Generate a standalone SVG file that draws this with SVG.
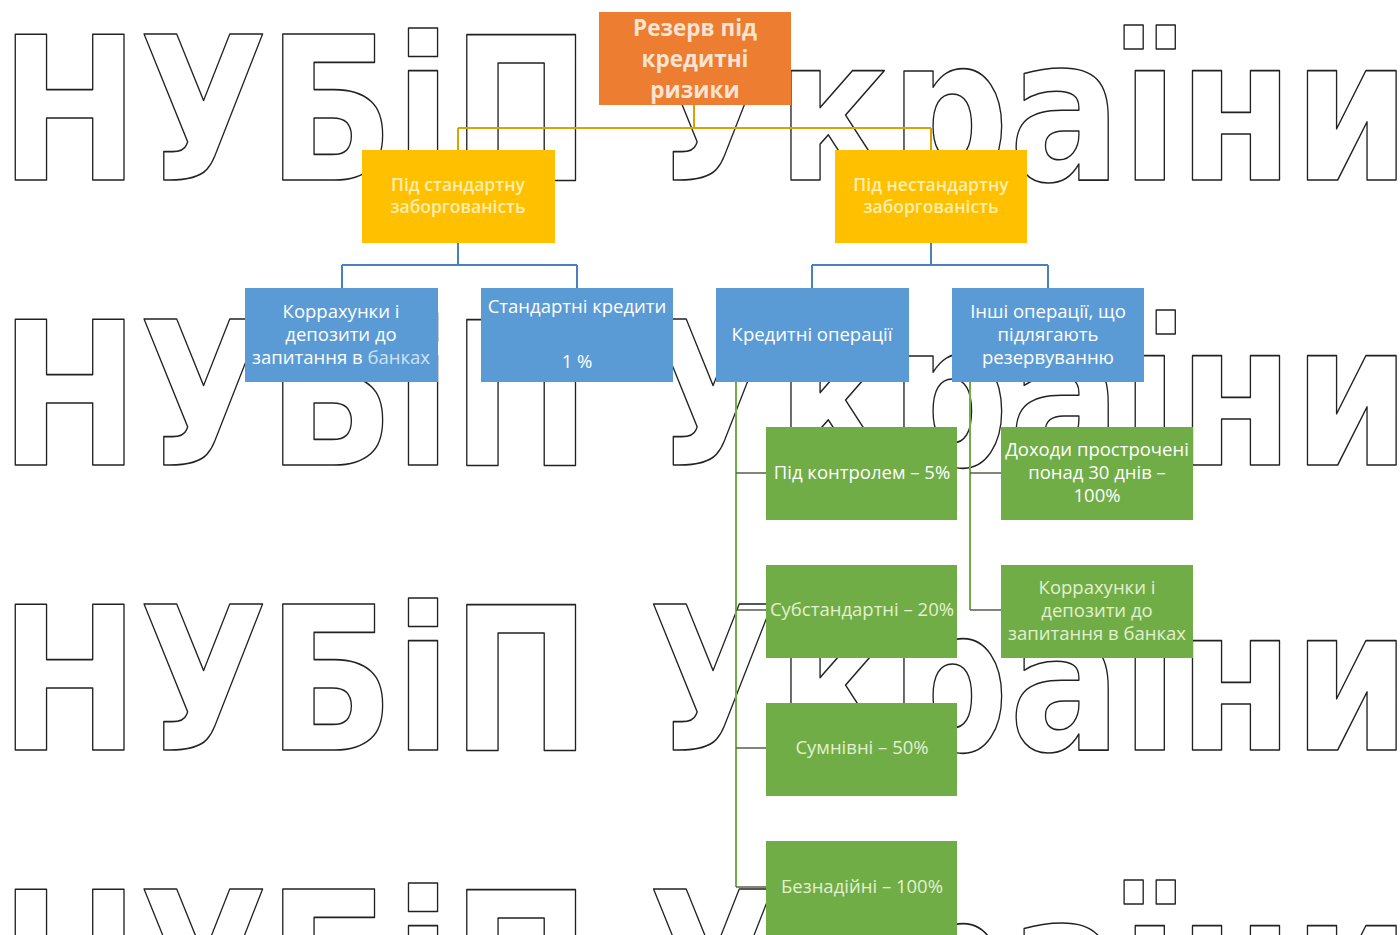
<svg xmlns="http://www.w3.org/2000/svg" width="1400" height="935" viewBox="0 0 1400 935">
<style>
.wm{font-family:"DejaVu Sans",sans-serif;font-weight:bold;font-size:200px;fill:#ffffff;stroke:#222222;stroke-width:1.6;stroke-linejoin:round}
.t{font-family:"Open Sans","Noto Sans",sans-serif;font-size:18.5px;fill:#ffffff;text-anchor:middle}
.tb{font-family:"Open Sans","Noto Sans",sans-serif;font-size:22.5px;font-weight:bold;fill:#fbe4d3;text-anchor:middle}
.ty{font-family:"Open Sans","Noto Sans",sans-serif;font-size:17.5px;font-weight:600;fill:#ffeeb0;text-anchor:middle}
.fg{fill:#e3f0cf}
.fb{fill:#cfe2f5}
.or{fill:#ED7D31}
.ye{fill:#FFC000}
.bl{fill:#5B9BD5}
.gr{fill:#70AD47}
.cg{stroke:#D9A300;stroke-width:2;fill:none}
.cb{stroke:#4A7FC0;stroke-width:2;fill:none}
.cv{stroke:#70AD47;stroke-width:2;fill:none}
.cs{stroke:#55604d;stroke-width:1.5;fill:none}
</style>
<rect width="1400" height="935" fill="#ffffff"/>
<g id="watermark">
<text class="wm" x="0" y="180" textLength="1410" lengthAdjust="spacingAndGlyphs">НУБіП України</text>
<text class="wm" x="0" y="465" textLength="1410" lengthAdjust="spacingAndGlyphs">НУБіП України</text>
<text class="wm" x="0" y="750" textLength="1410" lengthAdjust="spacingAndGlyphs">НУБіП України</text>
<text class="wm" x="0" y="1035" textLength="1410" lengthAdjust="spacingAndGlyphs">НУБіП України</text>
</g>
<g id="connectors">
<path class="cg" d="M694,105 V128 M458,128 H931 M458,128 V150 M931,128 V150"/>
<path class="cb" d="M458,243 V265 M342,265 H577 M342,265 V288 M577,265 V288"/>
<path class="cb" d="M931,243 V265 M812,265 H1048 M812,265 V288 M1048,265 V288"/>
<path class="cv" d="M736,382 V887 M970,382 V610"/>
<path class="cs" d="M736,473 H766 M736,610 H766 M736,748 H766 M736,887 H766 M970,473 H1001 M970,610 H1001"/>
</g>
<g id="n-root">
<rect class="or" x="599" y="12" width="192" height="93"/>
<text class="tb" x="695" y="36">Резерв під</text>
<text class="tb" x="695" y="67">кредитні</text>
<text class="tb" x="695" y="98">ризики</text>
</g>
<g id="n-std">
<rect class="ye" x="362" y="150" width="193" height="93"/>
<text class="ty" x="458" y="191">Під стандартну</text>
<text class="ty" x="458" y="213">заборгованість</text>
</g>
<g id="n-nonstd">
<rect class="ye" x="835" y="150" width="192" height="93"/>
<text class="ty" x="931" y="191">Під нестандартну</text>
<text class="ty" x="931" y="213">заборгованість</text>
</g>
<g id="n-corr1">
<rect class="bl" x="245" y="288" width="193" height="94"/>
<text class="t" x="341" y="318">Коррахунки і</text>
<text class="t" x="341" y="341">депозити до</text>
<text class="t" x="341" y="364">запитання в <tspan class="fb">банках</tspan></text>
</g>
<g id="n-stdcred">
<rect class="bl" x="481" y="288" width="192" height="94"/>
<text class="t" x="577" y="313">Стандартні кредити</text>
<text class="t" x="577" y="368">1 %</text>
</g>
<g id="n-credops">
<rect class="bl" x="716" y="288" width="193" height="94"/>
<text class="t" x="812" y="341">Кредитні операції</text>
</g>
<g id="n-other">
<rect class="bl" x="952" y="288" width="192" height="94"/>
<text class="t" x="1048" y="318">Інші операції, що</text>
<text class="t" x="1048" y="341">підлягають</text>
<text class="t" x="1048" y="364">резервуванню</text>
</g>
<g id="n-control">
<rect class="gr" x="766" y="427" width="191" height="93"/>
<text class="t" x="862" y="479">Під контролем – 5%</text>
</g>
<g id="n-substd">
<rect class="gr" x="766" y="565" width="191" height="93"/>
<text class="t fg" x="862" y="616">Субстандартні – 20%</text>
</g>
<g id="n-doubt">
<rect class="gr" x="766" y="703" width="191" height="93"/>
<text class="t fg" x="862" y="754">Сумнівні – 50%</text>
</g>
<g id="n-bad">
<rect class="gr" x="766" y="841" width="191" height="94"/>
<text class="t fg" x="862" y="893">Безнадійні – 100%</text>
</g>
<g id="n-income">
<rect class="gr" x="1001" y="427" width="192" height="93"/>
<text class="t" x="1097" y="456">Доходи прострочені</text>
<text class="t" x="1097" y="479">понад 30 днів –</text>
<text class="t" x="1097" y="502">100%</text>
</g>
<g id="n-corr2">
<rect class="gr" x="1001" y="565" width="192" height="93"/>
<text class="t fg" x="1097" y="594">Коррахунки і</text>
<text class="t fg" x="1097" y="617">депозити до</text>
<text class="t fg" x="1097" y="640">запитання в банках</text>
</g>
</svg>
